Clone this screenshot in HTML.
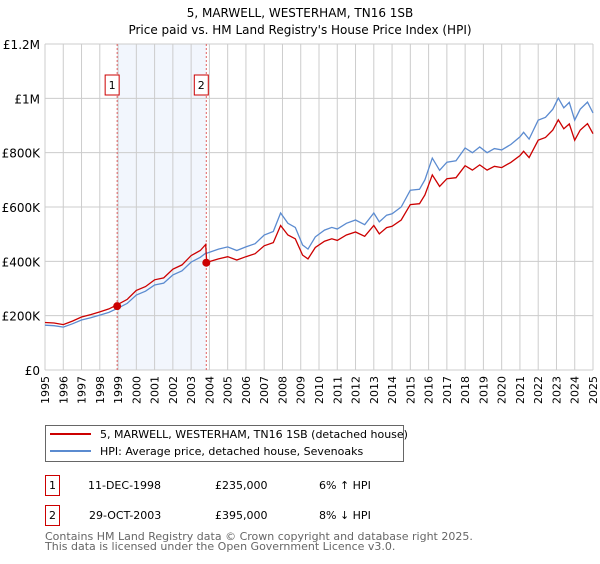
<!DOCTYPE html>
<html><head><meta charset="utf-8"><style>
body{margin:0;background:#fff;font-family:"DejaVu Sans","Liberation Sans",sans-serif;}
svg text{font-family:"DejaVu Sans","Liberation Sans",sans-serif;}
</style></head><body>
<svg id="chart" width="600" height="560" xmlns="http://www.w3.org/2000/svg">
<text x="300" y="17" text-anchor="middle" font-size="12">5, MARWELL, WESTERHAM, TN16 1SB</text>
<text x="300" y="34" text-anchor="middle" font-size="12">Price paid vs. HM Land Registry's House Price Index (HPI)</text>
<g id="grid"></g><g id="series"></g><g id="axes"></g>
<rect x="45.5" y="425.5" width="358" height="36" fill="#fff" stroke="#666"/>
<line x1="50" y1="434" x2="91" y2="434" stroke="#cc0000" stroke-width="2"/>
<text x="100" y="438" font-size="11">5, MARWELL, WESTERHAM, TN16 1SB (detached house)</text>
<line x1="50" y1="451" x2="91" y2="451" stroke="#5b8bd0" stroke-width="2"/>
<text x="100" y="455" font-size="11">HPI: Average price, detached house, Sevenoaks</text>
<g font-size="11">
<rect x="45.5" y="475.5" width="14" height="20" fill="#fff" stroke="#cc0000"/><text x="52.5" y="489" text-anchor="middle">1</text>
<text x="88" y="489">11-DEC-1998</text><text x="215" y="489">£235,000</text><text x="319" y="489">6% ↑ HPI</text></g>
<g font-size="11">
<rect x="45.5" y="505.5" width="14" height="20" fill="#fff" stroke="#cc0000"/><text x="52.5" y="519" text-anchor="middle">2</text>
<text x="89" y="519">29-OCT-2003</text><text x="215" y="519">£395,000</text><text x="319" y="519">8% ↓ HPI</text></g>
<text x="45" y="540" font-size="11" fill="#666">Contains HM Land Registry data © Crown copyright and database right 2025.</text>
<text x="45" y="550" font-size="11" fill="#666">This data is licensed under the Open Government Licence v3.0.</text>
</svg>
<script>
const dates=[1995,1995.5,1996,1996.5,1997,1997.5,1998,1998.5,1999,1999.5,2000,2000.5,2001,2001.5,2002,2002.5,2003,2003.5,2003.8,2003.85,2004.5,2005,2005.5,2006,2006.5,2007,2007.5,2007.9,2008.3,2008.7,2009.1,2009.4,2009.8,2010.3,2010.7,2011,2011.5,2012,2012.5,2013,2013.3,2013.7,2014,2014.5,2015,2015.5,2015.8,2016.2,2016.6,2017,2017.5,2018,2018.4,2018.8,2019.2,2019.6,2020,2020.5,2021,2021.2,2021.5,2022,2022.4,2022.8,2023.1,2023.4,2023.7,2024,2024.3,2024.7,2025];
const hpi=[165,163,158,170,184,192,202,212,228,245,276,290,313,320,350,365,397,415,430,430,445,453,440,453,465,497,510,578,540,525,460,445,490,515,525,519,540,552,535,578,545,570,575,600,662,665,700,780,735,765,770,817,800,821,800,815,810,830,858,875,850,920,930,960,1001,965,985,920,960,986,946];
const price=[175,173,167,180,195,204,214,225,242,260,293,307,332,339,371,387,421,440,462,396,409,417,405,417,428,457,469,532,497,483,423,409,451,474,483,477,497,508,492,532,501,524,529,552,609,612,644,718,676,704,708,752,736,755,736,750,745,764,789,805,782,846,856,883,921,888,906,846,883,907,870];
const yTicks=[0,200,400,600,800,1000,1200];
const yLabels=["£0","£200K","£400K","£600K","£800K","£1M","£1.2M"];
const years=[1995,1996,1997,1998,1999,2000,2001,2002,2003,2004,2005,2006,2007,2008,2009,2010,2011,2012,2013,2014,2015,2016,2017,2018,2019,2020,2021,2022,2023,2024,2025];
const sales=[{n:"1",d:1998.95,v:235},{n:"2",d:2003.83,v:395}];
const X0=45,X1=593,Y0=370,Y1=44;
const x=d=>X0+(d-1995)/30*(X1-X0);
const y=v=>Y0-v/1200*(Y0-Y1);
const NS="http://www.w3.org/2000/svg";
function mk(p,t,a){const e=document.createElementNS(NS,t);for(const k in a)e.setAttribute(k,a[k]);p.appendChild(e);return e;}
const grid=document.getElementById('grid'),ser=document.getElementById('series'),ax=document.getElementById('axes');
const band=mk(grid,'rect',{x:x(sales[0].d),y:Y1,width:x(sales[1].d)-x(sales[0].d),height:Y0-Y1,fill:'#f2f6fd'});


years.forEach(yr=>{
 const l=mk(grid,'line',{x1:x(yr),x2:x(yr),y1:Y1,y2:Y0,stroke:'#ccc','stroke-width':1});
 
 
 const t=mk(ax,'text',{x:0,y:0,'font-size':11,'text-anchor':'end',transform:`translate(${x(yr)+4},${Y0+6}) rotate(-90)`});
 t.textContent=yr;
 
 
});
yTicks.forEach((v,i)=>{
 const l=mk(grid,'line',{x1:X0,x2:X1,y1:y(v),y2:y(v),stroke:'#ccc','stroke-width':1});
 
 
 const t=mk(ax,'text',{x:X0-5,y:y(v)+5,'font-size':12,'text-anchor':'end'});
 t.textContent=yLabels[i];
 
 
});
sales.forEach(s=>{
 const l=mk(grid,'line',{x1:x(s.d),x2:x(s.d),y1:Y1,y2:Y0,stroke:'#e06060','stroke-dasharray':'2,2'});
 
 
 const r=mk(ax,'rect',{x:x(s.d)-12,y:75,width:14,height:20,fill:'#fff',stroke:'#cc0000'});
 
 
 const t=mk(ax,'text',{x:x(s.d)-5,y:89,'font-size':11,'text-anchor':'middle'});t.textContent=s.n;
});
const pts=a=>a.map((v,i)=>x(dates[i]).toFixed(1)+','+y(v).toFixed(1)).join(' ');
const hl=mk(ser,'polyline',{points:pts(hpi),fill:'none',stroke:'#5b8bd0','stroke-width':1.3});


const pl=mk(ser,'polyline',{points:pts(price),fill:'none',stroke:'#cc0000','stroke-width':1.3});


sales.forEach(s=>{
 const c=mk(ser,'circle',{cx:x(s.d),cy:y(s.v),r:4,fill:'#cc0000'});
 
 
});
</script>
</body></html>
